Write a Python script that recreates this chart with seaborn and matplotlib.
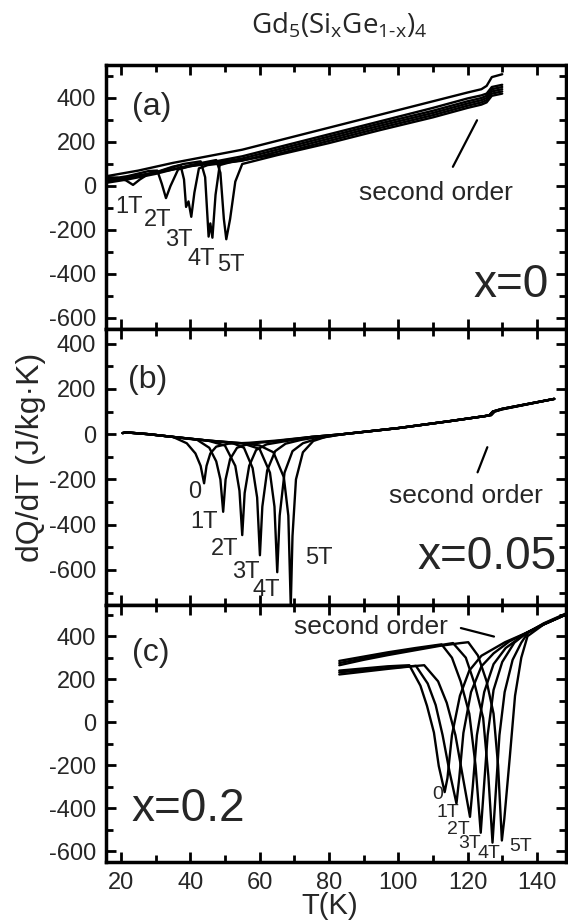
import matplotlib
matplotlib.use('Agg')
import matplotlib.pyplot as plt
import seaborn as sns
import pandas as pd
from matplotlib.ticker import MultipleLocator

# ---------------- data ----------------
fields = ['0', '1T', '2T', '3T', '4T', '5T']

# panel (a): x = 0
a_T_0T = [16, 25, 35, 45, 55, 65, 80, 95, 110, 120, 124, 125.5, 127, 130]
a_Q_0T = [45, 70, 105, 135, 165, 205, 265, 325, 385, 425, 440, 455, 495, 508]
a_T_1T = [16, 19, 21.5, 23.5, 25.5, 28, 35, 45, 55, 65, 80, 95, 110, 120, 124, 125.5, 127, 130]
a_Q_1T = [40, 38, 25, 5, 30, 55, 75, 105, 135, 175, 235, 295, 355, 398, 412, 420, 450, 460]
a_T_2T = [16, 22, 28, 30.5, 31.8, 33, 34.3, 36.5, 40, 45, 55, 65, 80, 95, 110, 120, 124, 125.5, 127, 130]
a_Q_2T = [30, 45, 68, 70, 10, -55, 0, 75, 90, 100, 125, 165, 225, 285, 342, 385, 400, 410, 440, 450]
a_T_3T = [16, 22, 30, 35, 37.2, 38.2, 38.8, 39.5, 40.3, 41.2, 42.5, 45, 55, 65, 80, 95, 110, 120, 124, 125.5, 127, 130]
a_Q_3T = [25, 40, 62, 88, 95, 30, -95, -70, -140, -30, 80, 95, 115, 155, 215, 275, 332, 375, 390, 400, 430, 440]
a_T_4T = [16, 22, 30, 38, 43, 44.3, 45.3, 45.8, 46.4, 47.3, 48.5, 52, 58, 65, 80, 95, 110, 120, 124, 125.5, 127, 130]
a_Q_4T = [20, 35, 60, 100, 112, 40, -230, -170, -235, -40, 95, 110, 125, 145, 205, 265, 322, 365, 380, 390, 420, 430]
a_T_5T = [16, 22, 30, 40, 47.5, 48.7, 49.7, 50.4, 51.5, 53, 55, 60, 65, 80, 95, 110, 120, 124, 125.5, 127, 130]
a_Q_5T = [15, 30, 55, 95, 118, 60, -150, -242, -150, 20, 100, 120, 140, 195, 255, 312, 355, 370, 380, 410, 420]

# panel (b): x = 0.05
b_T_0T = [20.5, 21.5, 28, 35, 39, 41.5, 43, 44, 44.7, 45.8, 47.5, 51, 57, 65, 75, 84, 100, 115, 125, 126.3, 127.3, 130, 145]
b_Q_0T = [5, 8, 0, -12, -40, -85, -140, -217, -140, -85, -55, -42, -38, -28, -12, 0, 27, 58, 80, 84, 100, 112, 156]
b_T_1T = [20.5, 21.5, 28, 35, 42, 45.5, 47.5, 48.7, 49.5, 50.2, 51.5, 53.5, 57, 65, 75, 84, 100, 115, 125, 126.3, 127.3, 130, 145]
b_Q_1T = [5, 8, 0, -12, -25, -60, -120, -200, -343, -200, -110, -60, -42, -30, -12, 0, 27, 58, 80, 84, 100, 112, 156]
b_T_2T = [20.5, 21.5, 28, 35, 45, 50, 53, 54.2, 55, 55.7, 57, 59, 62, 67, 75, 84, 100, 115, 125, 126.8, 127.8, 130, 145]
b_Q_2T = [5, 8, 0, -12, -28, -50, -140, -250, -446, -260, -140, -70, -45, -32, -12, 0, 27, 58, 80, 84, 100, 110, 156]
b_T_3T = [20.5, 21.5, 28, 35, 45, 52, 55.5, 58, 59.3, 60.1, 60.8, 62.2, 64.5, 67.5, 72, 78, 84, 100, 115, 125, 126.8, 127.8, 130, 145]
b_Q_3T = [5, 8, 0, -12, -28, -38, -60, -150, -280, -535, -320, -160, -75, -42, -25, -10, 0, 27, 58, 80, 84, 100, 110, 156]
b_T_4T = [20.5, 21.5, 28, 35, 45, 55, 60, 63, 64.3, 65.1, 65.8, 67.2, 69.5, 72.5, 77, 84, 100, 115, 125, 126.3, 127.3, 130, 145]
b_Q_4T = [5, 8, 0, -12, -28, -40, -65, -170, -320, -610, -360, -170, -75, -40, -18, 0, 27, 58, 80, 84, 100, 112, 156]
b_T_5T = [20.5, 21.5, 28, 35, 45, 55, 60, 64, 67, 68.3, 69, 69.5, 70.5, 72.5, 75.5, 79, 84, 100, 115, 125, 126.3, 127.3, 130, 145]
b_Q_5T = [5, 8, 0, -12, -28, -40, -50, -80, -190, -360, -760, -450, -200, -80, -30, -12, 0, 27, 58, 80, 84, 100, 112, 156]

# panel (c): x = 0.2
c_T_0T = [83, 90, 97, 103.2, 106.4, 108.3, 110.3, 111.7, 113.4, 114.2, 115.5, 117.8, 120.5, 124, 130.8, 136.5, 142, 149]
c_Q_0T = [240, 250, 260, 265, 170, 76, -48, -204, -325, -260, -60, 123, 240, 309, 372, 412, 455, 505]
c_T_1T = [83, 90, 97, 105.1, 108.5, 110.8, 112.8, 114.8, 116.8, 117.6, 118.8, 121, 124, 127.5, 132, 136.5, 142, 149]
c_Q_1T = [232, 242, 252, 262, 180, 80, -60, -230, -378, -260, -50, 140, 260, 320, 375, 412, 455, 505]
c_T_2T = [83, 90, 97, 104, 107.5, 111.5, 114, 116.5, 118.7, 120.7, 121.5, 122.7, 124.8, 127.5, 131, 136.5, 142, 149]
c_Q_2T = [222, 235, 248, 260, 265, 190, 90, -60, -260, -440, -300, -60, 140, 270, 345, 410, 455, 505]
c_T_3T = [83, 90, 97, 105, 112.5, 115.5, 118, 120.5, 122.3, 123.8, 124.6, 125.8, 127.5, 130, 133.5, 137, 142, 149]
c_Q_3T = [285, 305, 325, 345, 362, 300, 190, 40, -200, -514, -330, -60, 150, 280, 370, 415, 458, 508]
c_T_4T = [83, 90, 97, 105, 112, 115.8, 119.5, 122, 124.5, 126, 127.2, 128, 129.2, 130.7, 133, 135.5, 137.5, 142, 149]
c_Q_4T = [275, 297, 318, 340, 358, 368, 300, 180, 20, -250, -560, -360, -60, 140, 290, 370, 418, 460, 510]
c_T_5T = [83, 90, 97, 105, 112, 118, 120.2, 123, 125.5, 127.5, 128.8, 129.9, 130.6, 132.2, 133.7, 135.5, 137.3, 142, 149]
c_Q_5T = [265, 290, 312, 335, 355, 368, 372, 310, 190, 40, -200, -550, -450, -160, 123, 300, 400, 455, 505]

y_ticks = [-600, -400, -200, 0, 200, 400]
x_ticks = [20, 40, 60, 80, 100, 120, 140]


def panel_frame(Ts, Qs):
    rows = []
    for f, T, Q in zip(fields, Ts, Qs):
        for t, q in zip(T, Q):
            rows.append({'field': f, 'T': t, 'Q': q})
    return pd.DataFrame(rows)


df_a = panel_frame([a_T_0T, a_T_1T, a_T_2T, a_T_3T, a_T_4T, a_T_5T],
                   [a_Q_0T, a_Q_1T, a_Q_2T, a_Q_3T, a_Q_4T, a_Q_5T])
df_b = panel_frame([b_T_0T, b_T_1T, b_T_2T, b_T_3T, b_T_4T, b_T_5T],
                   [b_Q_0T, b_Q_1T, b_Q_2T, b_Q_3T, b_Q_4T, b_Q_5T])
df_c = panel_frame([c_T_0T, c_T_1T, c_T_2T, c_T_3T, c_T_4T, c_T_5T],
                   [c_Q_0T, c_Q_1T, c_Q_2T, c_Q_3T, c_Q_4T, c_Q_5T])

# ---------------- style ----------------
sns.set_theme(style='ticks')
plt.rcParams['font.family'] = ['Liberation Sans', 'DejaVu Sans']
plt.rcParams['axes.unicode_minus'] = False
plt.rcParams['mathtext.fontset'] = 'custom'
plt.rcParams['mathtext.rm'] = 'Open Sans'
plt.rcParams['mathtext.it'] = 'Open Sans:italic'
plt.rcParams['mathtext.default'] = 'rm'

W, H = 568, 923
fig = plt.figure(figsize=(W / 100, H / 100), dpi=100)
fig.patch.set_facecolor('white')
L, R = 106 / W, 566 / W
edges = [(65, 329), (329, 605), (605, 862)]
ylims = [(-650, 550), (-755, 465), (-650, 545)]
axes = []
for (t, b), yl, df in zip(edges, ylims, [df_a, df_b, df_c]):
    ax = fig.add_axes([L, 1 - b / H, R - L, (b - t) / H])
    sns.lineplot(data=df, x='T', y='Q', units='field', estimator=None, sort=False,
                 color='black', lw=1.7, ax=ax, legend=False)
    ax.set_xlim(15.7, 148.4)
    ax.set_ylim(*yl)
    ax.set_xticks(x_ticks)
    ax.set_yticks(y_ticks)
    ax.xaxis.set_minor_locator(MultipleLocator(10))
    ax.yaxis.set_minor_locator(MultipleLocator(100))
    ax.tick_params(which='both', direction='in', top=True, right=True,
                   width=2, color='black', labelsize=17, pad=7)
    ax.tick_params(which='major', length=7)
    ax.tick_params(which='minor', length=5)
    for s in ax.spines.values():
        s.set_linewidth(2.5)
        s.set_color('black')
    ax.set_xlabel('')
    ax.set_ylabel('')
    ax.set_facecolor('white')
    axes.append(ax)

axa, axb, axc = axes
axa.tick_params(labelbottom=False)
axb.tick_params(labelbottom=False)

# panel texts
lab_kw = dict(fontsize=17, ha='center', va='center')
for ax, txt, pos in [(axa, '(a)', (29, 360)), (axb, '(b)', (27.6, 240)), (axc, '(c)', (28.6, 320))]:
    ax.text(*pos, txt, fontsize=23, ha='center', va='center')
axa.text(132.5, -450, 'x=0', fontsize=33, ha='center', va='center')
axb.text(125.5, -545, 'x=0.05', fontsize=33, ha='center', va='center')
axc.text(39.4, -403, 'x=0.2', fontsize=33, ha='center', va='center')

for t, x, y in zip(['1T', '2T', '3T', '4T', '5T'],
                   [22.2, 30.6, 36.7, 43.2, 51.7], [-95, -155, -245, -330, -359]):
    axa.text(x, y, t, **lab_kw)
for t, x, y in zip(['0', '1T', '2T', '3T', '4T', '5T'],
                   [41.2, 44.1, 50.0, 55.9, 61.9, 77.2], [-254, -388, -508, -610, -690, -546]):
    axb.text(x, y, t, **lab_kw)
for t, x, y in zip(['0', '1T', '2T', '3T', '4T', '5T'],
                   [111.3, 114.3, 117.3, 120.6, 126.2, 135.2], [-338, -420, -500, -566, -612, -576]):
    axc.text(x, y, t, fontsize=14, ha='center', va='center')

so_kw = dict(fontsize=19, ha='center', va='center')
axa.text(111, -32, 'second order', **so_kw)
axa.annotate('', xy=(123.1, 310), xytext=(115.4, 76),
             arrowprops=dict(arrowstyle='-', lw=1.6, color='black'))
axb.text(119.6, -272, 'second order', **so_kw)
axb.annotate('', xy=(126, -46), xytext=(122.6, -180),
             arrowprops=dict(arrowstyle='-', lw=1.6, color='black'))
axc.text(92, 443, 'second order', **so_kw)
axc.annotate('', xy=(128.4, 395), xytext=(117.3, 441),
             arrowprops=dict(arrowstyle='-', lw=1.6, color='black'))

fig.text(339 / W, 1 - 34 / H, r'Gd$_5$(Si$_x$Ge$_{1\text{-}x}$)$_4$', fontsize=20,
         family='Open Sans', ha='center', va='baseline')
fig.text(31 / W, 1 - 457 / H, 'dQ/dT (J/kg·K)', rotation=90, fontsize=23,
         ha='center', va='center')
fig.text(330 / W, 1 - 906 / H, 'T(K)', fontsize=21, ha='center', va='center')

fig.savefig('out.png', dpi=100, facecolor='white')
